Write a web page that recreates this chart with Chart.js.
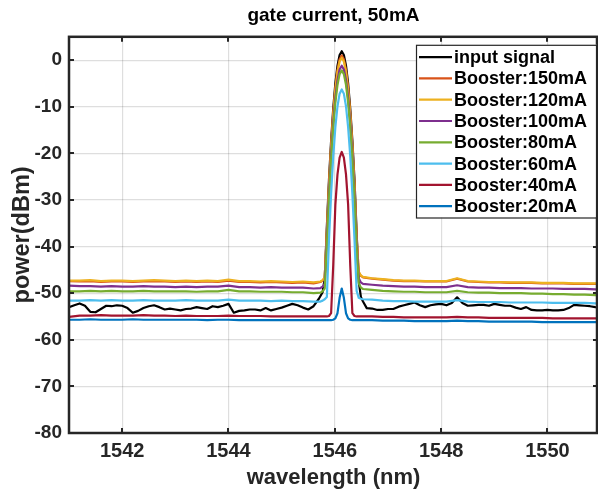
<!DOCTYPE html>
<html>
<head>
<meta charset="utf-8">
<title>gate current, 50mA</title>
<script src="https://cdn.jsdelivr.net/npm/chart.js@4.4.1/dist/chart.umd.min.js"></script>
<style>
  html, body { margin: 0; padding: 0; background: #fff; }
  #wrap { width: 598px; height: 492px; }
</style>
</head>
<body>
<div id="wrap"><canvas id="chart" width="598" height="492"></canvas></div>
<script>
/* ── data ── */
const xTicks = [1542, 1544, 1546, 1548, 1550];
const yTicks = [-80, -70, -60, -50, -40, -30, -20, -10, 0];

const seriesNames = ['input signal', 'Booster:150mA', 'Booster:120mA', 'Booster:100mA',
    'Booster:80mA', 'Booster:60mA', 'Booster:40mA', 'Booster:20mA'];
const seriesColors = ['#000000', '#D95319', '#EDB120', '#7E2F8E',
    '#77AC30', '#4DBEEE', '#A2142F', '#0072BD'];

// input signal has its own, finer wavelength grid (nm)
const inputWl = [
    1541.0, 1541.1, 1541.2, 1541.3, 1541.4, 1541.5, 1541.6, 1541.7, 1541.8, 1541.9,
    1542.0, 1542.1, 1542.2, 1542.3, 1542.4, 1542.5, 1542.6, 1542.7, 1542.8, 1542.9,
    1543.0, 1543.1, 1543.2, 1543.3, 1543.4, 1543.5, 1543.6, 1543.7, 1543.8, 1543.9,
    1544.0, 1544.1, 1544.2, 1544.3, 1544.4, 1544.5, 1544.6, 1544.7, 1544.8, 1544.9,
    1545.0, 1545.1, 1545.2, 1545.3, 1545.4, 1545.5, 1545.6, 1545.7,
    1545.77, 1545.81, 1545.85, 1545.89, 1545.93, 1545.97, 1546.01, 1546.05, 1546.09, 1546.13,
    1546.17, 1546.21, 1546.25, 1546.29, 1546.33, 1546.37, 1546.41, 1546.45, 1546.49, 1546.53,
    1546.6, 1546.7, 1546.8, 1546.9,
    1547.0, 1547.1, 1547.2, 1547.3, 1547.4, 1547.5, 1547.6, 1547.7, 1547.8, 1547.9,
    1548.0, 1548.1, 1548.2, 1548.3, 1548.4, 1548.5, 1548.6, 1548.7, 1548.8, 1548.9,
    1549.0, 1549.1, 1549.2, 1549.3, 1549.4, 1549.5, 1549.6, 1549.7, 1549.8, 1549.9,
    1550.0, 1550.1, 1550.2, 1550.3, 1550.4, 1550.5, 1550.6, 1550.7, 1550.8, 1550.9, 1551.0
];
const inputPow = [
    -53.0, -52.6, -52.2, -52.7, -54.0, -54.1, -53.4, -52.7, -52.8, -52.6,
    -52.7, -53.2, -54.2, -53.8, -53.2, -52.8, -52.6, -53.0, -53.5, -53.3,
    -53.5, -53.7, -53.4, -53.3, -53.0, -53.2, -53.4, -52.8, -53.0, -52.7,
    -52.3, -54.2, -53.8, -53.7, -53.5, -53.5, -53.7, -53.2, -53.7, -53.4,
    -53.1, -52.7, -52.3, -52.6, -53.1, -53.5, -52.8, -51.2,
    -49.8, -46.8, -35.7, -25.7, -17.3, -10.4, -5.0, -1.2, 1.1, 1.9,
    1.1, -1.2, -5.0, -10.4, -17.3, -25.7, -37.0, -47.5, -50.8, -51.8,
    -53.2, -53.3, -53.6, -53.6,
    -53.4, -53.4, -52.9, -52.6, -52.3, -52.0, -52.6, -53.0, -52.6, -52.4,
    -52.3, -52.6, -52.1, -50.9, -52.1, -52.7, -52.6, -52.5, -52.5, -52.7,
    -52.3, -52.5, -52.7, -52.7, -53.1, -53.4, -53.0, -53.6, -53.7, -53.7,
    -53.6, -53.7, -53.7, -53.6, -53.2, -52.5, -52.6, -52.7, -52.8, -53.0, -53.1
];

// booster traces share one wavelength grid (nm)
const boostWl = [
    1541.0, 1541.2, 1541.4, 1541.6, 1541.8, 1542.0, 1542.2, 1542.4, 1542.6, 1542.8,
    1543.0, 1543.2, 1543.4, 1543.6, 1543.8, 1544.0, 1544.2, 1544.4, 1544.6, 1544.8,
    1545.0, 1545.2, 1545.4, 1545.6,
    1545.73, 1545.77, 1545.81, 1545.85, 1545.89, 1545.93, 1545.97, 1546.01, 1546.05, 1546.09, 1546.13,
    1546.17, 1546.21, 1546.25, 1546.29, 1546.33, 1546.37, 1546.41, 1546.45, 1546.49, 1546.53,
    1546.7, 1546.9, 1547.1, 1547.3, 1547.5, 1547.7, 1547.9, 1548.1, 1548.3, 1548.5,
    1548.7, 1548.9, 1549.1, 1549.3, 1549.5, 1549.7, 1549.9, 1550.1, 1550.3, 1550.5,
    1550.7, 1550.9, 1551.0
];
const pow150 = [
    -47.4, -47.5, -47.4, -47.6, -47.5, -47.5, -47.6, -47.5, -47.4, -47.5,
    -47.6, -47.5, -47.6, -47.5, -47.6, -47.3, -47.6, -47.6, -47.7, -47.6,
    -47.7, -47.8, -47.7, -47.9,
    -47.6, -47.3, -46.8, -36.6, -26.6, -18.2, -11.3, -5.9, -2.1, 0.2, 1.0,
    0.2, -2.1, -5.9, -11.3, -18.2, -26.6, -38.0, -45.5, -46.3, -46.6,
    -46.9, -47.1, -47.3, -47.4, -47.4, -47.5, -47.5, -47.5, -46.9, -47.5,
    -47.6, -47.7, -47.7, -47.8, -47.8, -47.8, -47.9, -47.9, -47.9, -48.0,
    -48.0, -48.0, -48.1
];
const pow120 = [
    -47.3, -47.3, -47.2, -47.4, -47.3, -47.3, -47.4, -47.3, -47.2, -47.3,
    -47.4, -47.3, -47.4, -47.3, -47.4, -47.1, -47.4, -47.4, -47.5, -47.4,
    -47.5, -47.6, -47.5, -47.7,
    -47.5, -47.2, -46.7, -37.1, -27.2, -18.7, -11.8, -6.4, -2.6, -0.3, 0.5,
    -0.3, -2.6, -6.4, -11.8, -18.7, -27.2, -38.4, -45.4, -46.2, -46.5,
    -46.8, -47.0, -47.2, -47.3, -47.3, -47.4, -47.4, -47.4, -46.8, -47.4,
    -47.5, -47.6, -47.6, -47.7, -47.7, -47.7, -47.8, -47.8, -47.8, -47.9,
    -47.9, -47.9, -48.0
];
const pow100 = [
    -48.4, -48.5, -48.5, -48.6, -48.5, -48.6, -48.6, -48.5, -48.6, -48.6,
    -48.7, -48.6, -48.7, -48.6, -48.6, -48.4, -48.7, -48.7, -48.8, -48.7,
    -48.8, -48.8, -48.8, -49.0,
    -48.9, -48.6, -48.0, -38.8, -28.9, -20.4, -13.5, -8.1, -4.3, -2.0, -1.2,
    -2.0, -4.3, -8.1, -13.5, -20.4, -28.9, -39.5, -46.8, -47.7, -48.0,
    -48.2, -48.4, -48.5, -48.6, -48.6, -48.7, -48.7, -48.7, -48.3, -48.7,
    -48.8, -48.8, -48.9, -48.9, -48.9, -49.0, -49.0, -49.0, -49.1, -49.1,
    -49.1, -49.2, -49.2
];
const pow80 = [
    -49.6, -49.6, -49.5, -49.6, -49.5, -49.6, -49.6, -49.5, -49.6, -49.6,
    -49.6, -49.6, -49.7, -49.6, -49.6, -49.3, -49.6, -49.6, -49.7, -49.7,
    -49.7, -49.8, -49.8, -50.0,
    -49.9, -49.6, -49.0, -39.8, -29.9, -21.4, -14.5, -9.1, -5.3, -3.0, -2.2,
    -3.0, -5.3, -9.1, -14.5, -21.4, -29.9, -40.5, -47.9, -48.8, -49.1,
    -49.3, -49.5, -49.6, -49.7, -49.7, -49.8, -49.8, -49.8, -49.5, -49.8,
    -49.9, -49.9, -50.0, -50.0, -50.0, -50.1, -50.1, -50.2, -50.2, -50.3,
    -50.3, -50.4, -50.4
];
const pow60 = [
    -51.6, -51.6, -51.5, -51.6, -51.5, -51.6, -51.6, -51.5, -51.6, -51.6,
    -51.6, -51.5, -51.6, -51.6, -51.6, -51.4, -51.6, -51.6, -51.6, -51.7,
    -51.6, -51.7, -51.7, -51.8,
    -51.8, -51.6, -51.3, -50.8, -38.6, -28.7, -20.6, -14.4, -9.9, -7.2, -6.3,
    -7.2, -9.9, -14.4, -20.6, -28.7, -38.6, -49.5, -51.0, -51.2, -51.3,
    -51.4, -51.6, -51.7, -51.7, -51.8, -51.8, -51.8, -51.8, -51.5, -51.8,
    -51.9, -51.9, -51.9, -52.0, -52.0, -52.0, -52.0, -52.1, -52.1, -52.1,
    -52.1, -52.2, -52.2
];
const pow40 = [
    -55.1, -54.8, -54.8, -54.7, -54.8, -54.8, -54.8, -54.7, -54.8, -54.8,
    -54.9, -54.8, -54.9, -54.9, -54.9, -54.8, -54.9, -54.9, -54.9, -55.0,
    -55.0, -55.0, -55.0, -55.0,
    -55.0, -55.0, -55.0, -55.0, -54.9, -54.3, -44.0, -31.0, -24.5, -20.9, -19.7,
    -20.9, -24.5, -31.0, -44.0, -54.3, -54.9, -55.0, -55.0, -55.0, -55.0,
    -55.0, -55.1, -55.1, -55.2, -55.2, -55.2, -55.2, -55.2, -55.1, -55.2,
    -55.2, -55.3, -55.3, -55.3, -55.3, -55.3, -55.3, -55.4, -55.4, -55.4,
    -55.4, -55.4, -55.4
];
const pow20 = [
    -55.7, -55.7, -55.6, -55.7, -55.7, -55.7, -55.6, -55.7, -55.7, -55.7,
    -55.7, -55.7, -55.7, -55.8, -55.7, -55.7, -55.8, -55.8, -55.8, -55.8,
    -55.8, -55.8, -55.8, -55.8,
    -55.8, -55.8, -55.8, -55.8, -55.8, -55.8, -55.7, -55.4, -54.3, -51.0, -49.0,
    -51.0, -54.3, -55.4, -55.7, -55.8, -55.8, -55.8, -55.8, -55.8, -55.8,
    -55.8, -55.9, -55.9, -55.9, -56.0, -56.0, -56.0, -56.0, -55.9, -56.0,
    -56.0, -56.1, -56.1, -56.1, -56.1, -56.1, -56.2, -56.2, -56.2, -56.2,
    -56.2, -56.2, -56.3
];

/* ── style ── */
const FONT = "'Liberation Sans', Arial, Helvetica, sans-serif";
const AXIS_COLOR = '#262626';
const GRID_COLOR = 'rgba(0,0,0,0.13)';

function toPoints(wl, pow) {
    return wl.map((x, i) => ({ x: x, y: pow[i] }));
}

const traces = [
    toPoints(inputWl, inputPow),
    toPoints(boostWl, pow150),
    toPoints(boostWl, pow120),
    toPoints(boostWl, pow100),
    toPoints(boostWl, pow80),
    toPoints(boostWl, pow60),
    toPoints(boostWl, pow40),
    toPoints(boostWl, pow20)
];

// Chart.js paints dataset 0 last, so feed them reversed: last plotted ends on top
const datasets = traces.map((pts, i) => ({
    label: seriesNames[i],
    data: pts,
    borderColor: seriesColors[i],
    borderWidth: 2.2,
    pointRadius: 0,
    tension: 0,
    fill: false
})).reverse();

/* ── box with inward ticks, MATLAB style ── */
const boxPlugin = {
    id: 'matlabBox',
    afterDatasetsDraw(chart) {
        const { ctx, chartArea: a, scales } = chart;
        const len = 5;
        ctx.save();
        ctx.strokeStyle = AXIS_COLOR;
        ctx.lineWidth = 2;
        ctx.beginPath();
        xTicks.forEach(v => {
            const px = Math.round(scales.x.getPixelForValue(v));
            ctx.moveTo(px, a.bottom); ctx.lineTo(px, a.bottom - len);
            ctx.moveTo(px, a.top); ctx.lineTo(px, a.top + len);
        });
        yTicks.forEach(v => {
            const py = Math.round(scales.y.getPixelForValue(v));
            ctx.moveTo(a.left, py); ctx.lineTo(a.left + len, py);
            ctx.moveTo(a.right, py); ctx.lineTo(a.right - len, py);
        });
        ctx.stroke();
        ctx.lineWidth = 2.5;
        ctx.strokeRect(a.left, a.top, a.right - a.left - 1, a.bottom - a.top);
        ctx.restore();
    }
};

/* ── legend box in the top right corner ── */
const legendPlugin = {
    id: 'boxLegend',
    afterDraw(chart) {
        const { ctx, chartArea: a } = chart;
        const w = 181, rowH = 21.3, padTop = 12.3;
        const right = a.right - 1;
        const left = right - w;
        const top = a.top + 8;
        const h = padTop * 2 + rowH * (seriesNames.length - 1) - 1;
        ctx.save();
        ctx.fillStyle = '#fff';
        ctx.fillRect(left, top, w, h);
        ctx.strokeStyle = AXIS_COLOR;
        ctx.lineWidth = 1.2;
        ctx.strokeRect(left + 0.5, top + 0.5, w - 1, h);
        ctx.font = 'bold 18px ' + FONT;
        ctx.textBaseline = 'middle';
        ctx.textAlign = 'left';
        seriesNames.forEach((name, i) => {
            const cy = top + padTop + rowH * i;
            ctx.strokeStyle = seriesColors[i];
            ctx.lineWidth = 2.2;
            ctx.beginPath();
            ctx.moveTo(left + 3, cy);
            ctx.lineTo(left + 36, cy);
            ctx.stroke();
            ctx.fillStyle = '#000';
            ctx.fillText(name, left + 38, cy + 1);
        });
        ctx.restore();
    }
};

new Chart(document.getElementById('chart'), {
    type: 'line',
    data: { datasets: datasets },
    options: {
        responsive: false,
        animation: false,
        devicePixelRatio: 1,
        layout: { padding: 0 },
        elements: { line: { borderCapStyle: 'round', borderJoinStyle: 'round' } },
        plugins: {
            legend: { display: false },
            tooltip: { enabled: false },
            title: {
                display: true,
                text: 'gate current, 50mA',
                fullSize: false,
                color: '#000',
                font: { family: FONT, size: 19, weight: 'bold' },
                padding: { top: 4, bottom: 10 }
            }
        },
        scales: {
            x: {
                type: 'linear',
                min: 1541,
                max: 1550.95,
                afterBuildTicks: s => { s.ticks = xTicks.map(v => ({ value: v })); },
                afterFit: s => { s.height = 59; },
                grid: { color: GRID_COLOR, lineWidth: 1.2, drawTicks: false },
                border: { display: false },
                ticks: {
                    color: AXIS_COLOR,
                    padding: 6,
                    maxRotation: 0,
                    font: { family: FONT, size: 20, weight: 'bold' },
                    callback: v => String(v)
                },
                title: {
                    display: true,
                    text: 'wavelength (nm)',
                    color: AXIS_COLOR,
                    font: { family: FONT, size: 22, weight: 'bold' },
                    padding: { top: 0, bottom: 1 }
                }
            },
            y: {
                min: -80,
                max: 5,
                afterBuildTicks: s => { s.ticks = yTicks.map(v => ({ value: v })); },
                afterFit: s => { s.width = 69; },
                grid: { color: GRID_COLOR, lineWidth: 1.2, drawTicks: false },
                border: { display: false },
                ticks: {
                    color: AXIS_COLOR,
                    padding: 7,
                    font: { family: FONT, size: 19, weight: 'bold' },
                    callback: v => String(v)
                },
                title: {
                    display: true,
                    text: 'power(dBm)',
                    color: AXIS_COLOR,
                    font: { family: FONT, size: 23.5, weight: 'bold' },
                    padding: { top: 8, bottom: 0 }
                }
            }
        }
    },
    plugins: [boxPlugin, legendPlugin]
});
</script>
</body>
</html>
